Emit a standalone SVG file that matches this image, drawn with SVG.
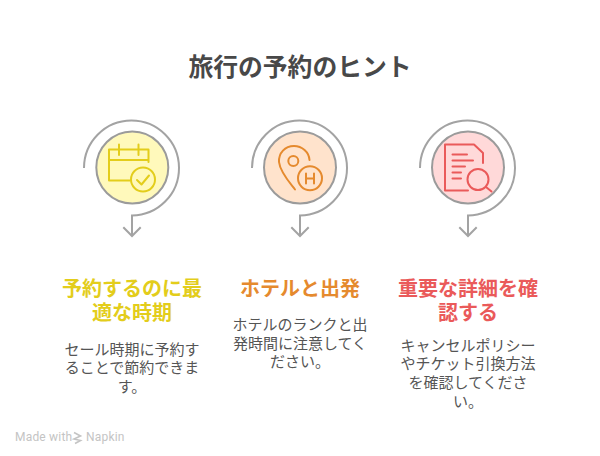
<svg xmlns="http://www.w3.org/2000/svg" width="600" height="456" viewBox="0 0 600 456">
<style>
text{font-family:"Noto Sans CJK JP",sans-serif;text-anchor:middle}
.t{font-weight:700;font-size:24.800px;fill:#484848}
.h{font-weight:700;font-size:20px}
.b{font-size:15px;fill:#555}
.w{font-family:"Roboto",sans-serif;font-size:12px;letter-spacing:.2px;fill:#c4c4c4;text-anchor:start}
.disc{stroke:#9b9b9b;stroke-width:2}
.arc{fill:none;stroke:#a3a3a3;stroke-width:2}
.i{fill:none;stroke-width:2;stroke-linecap:round;stroke-linejoin:round}
</style>
<rect width="600" height="456" fill="#fff"/>
<text class="t" x="300" y="76">旅行の予約のヒント</text>
<g id="connectors">
<path class="arc" d="M84 168A47.500 47.500 0 1 1 132 215.500V236M123.300 227.300L132 236L140.700 227.300"/>
<path class="arc" d="M252 168A47.500 47.500 0 1 1 300 215.500V236M291.300 227.300L300 236L308.700 227.300"/>
<path class="arc" d="M420 168A47.500 47.500 0 1 1 468 215.500V236M459.300 227.300L468 236L476.700 227.300"/>
</g>
<g id="node-1">
<circle class="disc" cx="132.300" cy="167.500" r="36" fill="#fff9bb"/>
<g class="i" stroke="#e3cd1b">
<path d="M148.500 162V149.500H109V180.500H130M109 160H148.500M119 144.500V155M138.500 144.500V155"/>
<circle cx="143" cy="179.500" r="12"/>
<path d="M137 180L141.500 184.500L149 175.500"/>
</g>
<text class="h" fill="#e3cd1b"><tspan x="132" y="296">予約するのに最</tspan><tspan x="132" y="320">適な時期</tspan></text>
<text class="b"><tspan x="132" y="354.500">セール時期に予約す</tspan><tspan x="132" y="373">ることで節約できま</tspan><tspan x="132" y="391.500">す。</tspan></text>
</g>
<g id="node-2">
<circle class="disc" cx="300" cy="167.500" r="36" fill="#ffe3cc"/>
<g class="i" stroke="#e58a2e">
<path d="M295 189.500C290 183 280 172 279 162C278.500 153 285 146 294 146C302 146 309 152 309.500 160"/>
<circle cx="293.300" cy="161" r="5"/>
<circle cx="310" cy="178.300" r="12"/>
<path d="M306 173.500V183.500M314 173.500V183.500M306 178.500H314"/>
</g>
<text class="h" x="300" y="296" fill="#e58a2e">ホテルと出発</text>
<text class="b"><tspan x="300" y="330">ホテルのランクと出</tspan><tspan x="300" y="348.500">発時間に注意してく</tspan><tspan x="300" y="367">ださい。</tspan></text>
</g>
<g id="node-3">
<circle class="disc" cx="468" cy="167.500" r="36" fill="#ffd9d9"/>
<g class="i" stroke="#ea5a5a">
<path d="M483 163V153L474 144.500H445V190.500H468M452.500 154.500H467M452.500 160.500H473M452.500 166.500H465M452.500 172.500H461M452.500 178.500H461"/>
<circle cx="478" cy="179.500" r="10.500"/>
<path d="M486 187L491.500 191.500"/>
</g>
<text class="h" fill="#ea5a5a"><tspan x="468" y="296">重要な詳細を確</tspan><tspan x="468" y="320">認する</tspan></text>
<text class="b"><tspan x="468" y="350.500">キャンセルポリシー</tspan><tspan x="468" y="369">やチケット引換方法</tspan><tspan x="468" y="388">を確認してくださ</tspan><tspan x="468" y="406.500">い。</tspan></text>
</g>
<g id="watermark">
<text class="w" x="15" y="441">Made with</text>
<path d="M74 432.500L80.500 436L74 439L80.500 440.500L75 443.500" fill="none" stroke="#c4c4c4" stroke-width="1.600"/>
<text class="w" x="86" y="441">Napkin</text>
</g>
</svg>
